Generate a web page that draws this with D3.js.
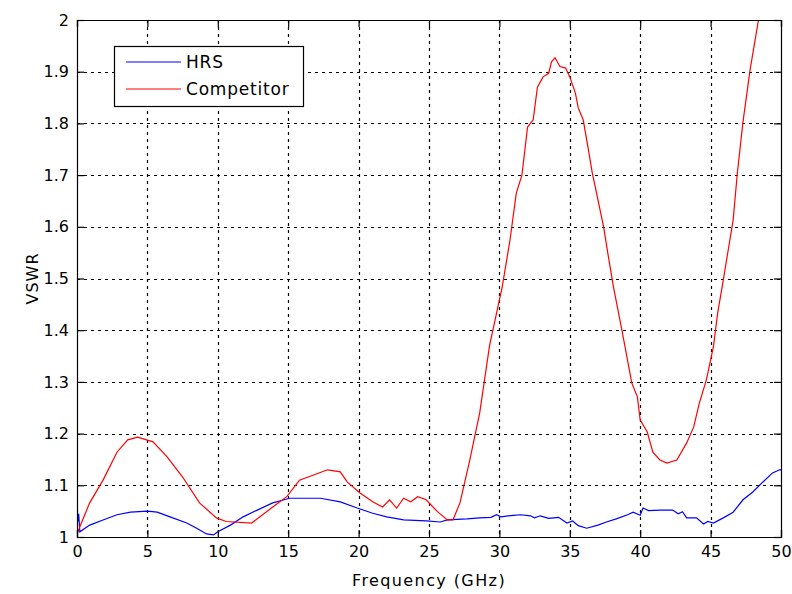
<!DOCTYPE html>
<html>
<head>
<meta charset="utf-8">
<script src="https://cdn.jsdelivr.net/npm/d3@7"></script>
<style>
  body { margin: 0; background: #fff; }
  text { font-family: "DejaVu Sans", Verdana, sans-serif; }
</style>
</head>
<body>
<div id="chart"></div>
<script>
// data (frequency in GHz, VSWR)
const hrsFreq = [0, 0.08, 0.12, 0.2, 0.9, 1.85, 2.84, 3.8, 5.0, 5.7, 6.6, 7.8, 8.5, 9.2, 9.7, 10.0, 10.9, 11.8, 12.8, 13.9,
  15.1, 17.3, 18.7, 19.9, 21.0, 22.0, 23.2, 24.8, 25.8, 26.3, 27.7, 28.6, 29.4, 29.8, 30.1, 31.0, 31.5, 32.2, 32.5, 32.9,
  33.5, 34.2, 34.8, 35.2, 35.6, 36.2, 37.0, 37.6, 38.3, 39.1, 39.5, 40.0, 40.2, 40.6, 41.4, 42.3, 42.7, 43.0, 43.3, 44.0,
  44.5, 44.8, 45.2, 45.9, 46.6, 47.3, 48.0, 48.7, 49.4, 49.9, 50];
const hrsVswr = [1.065, 1.03, 1.045, 1.01, 1.023, 1.033, 1.043, 1.048, 1.05, 1.048, 1.039, 1.027, 1.017, 1.006, 1.004, 1.01, 1.023, 1.039, 1.052, 1.066,
  1.075, 1.075, 1.068, 1.056, 1.046, 1.039, 1.033, 1.031, 1.029, 1.033, 1.035, 1.037, 1.038, 1.043, 1.039, 1.042, 1.043, 1.041, 1.037, 1.041,
  1.036, 1.038, 1.027, 1.031, 1.022, 1.017, 1.023, 1.029, 1.035, 1.043, 1.048, 1.042, 1.056, 1.051, 1.052, 1.052, 1.045, 1.049, 1.037, 1.037,
  1.025, 1.03, 1.027, 1.037, 1.048, 1.072, 1.087, 1.106, 1.124, 1.13, 1.13];

const compFreq = [0, 0.2, 0.9, 1.85, 2.84, 3.6, 4.3, 5.4, 6.4, 7.5, 8.7, 9.9, 10.6, 12.4, 13.9, 14.9, 15.8, 17.8, 18.7, 19.2,
  20.1, 21.0, 21.7, 22.2, 22.7, 23.2, 23.7, 24.2, 24.8, 25.6, 26.3, 26.7, 27.2, 27.9, 28.6, 29.3, 30.2, 30.75, 31.2, 31.6,
  32.0, 32.4, 32.7, 33.1, 33.5, 33.7, 33.95, 34.3, 34.7, 35.0, 35.4, 35.6, 35.95, 36.2, 36.6, 36.9, 37.4, 37.7, 38.1, 38.7,
  39.4, 39.8, 40.0, 40.5, 40.9, 41.4, 41.9, 42.6, 43.3, 43.8, 44.2, 44.7, 45.2, 45.5, 45.9, 46.6, 46.9, 47.3, 47.8, 48.4, 48.8];
const compVswr = [1.005, 1.02, 1.066, 1.11, 1.164, 1.188, 1.193, 1.184, 1.155, 1.116, 1.066, 1.037, 1.03, 1.027, 1.058, 1.078, 1.11, 1.13, 1.126, 1.106,
  1.085, 1.068, 1.058, 1.072, 1.056, 1.075, 1.068, 1.078, 1.072, 1.049, 1.033, 1.033, 1.066, 1.149, 1.24, 1.37, 1.484, 1.574, 1.665, 1.70,
  1.793, 1.807, 1.87, 1.89, 1.897, 1.919, 1.927, 1.91, 1.907, 1.89, 1.858, 1.83, 1.807, 1.768, 1.704, 1.665, 1.6, 1.549, 1.484, 1.40,
  1.298, 1.271, 1.226, 1.203, 1.164, 1.149, 1.143, 1.149, 1.182, 1.213, 1.259, 1.304, 1.368, 1.433, 1.497, 1.613, 1.704, 1.803, 1.903, 2.0, 2.07];

const xTicks = [0, 5, 10, 15, 20, 25, 30, 35, 40, 45, 50];
const yTicks = [1, 1.1, 1.2, 1.3, 1.4, 1.5, 1.6, 1.7, 1.8, 1.9, 2];
const seriesNames = ["HRS", "Competitor"];
const seriesColors = ["#0000ff", "#ff0000"];

const W = 792, H = 594;
const margin = {top: 20, right: 11, bottom: 57, left: 77};
const width = W - margin.left - margin.right;
const height = H - margin.top - margin.bottom;

const svg = d3.select("#chart").append("svg")
    .attr("width", W)
    .attr("height", H);

const g = svg.append("g")
    .attr("transform", "translate(" + margin.left + "," + margin.top + ")");

const x = d3.scaleLinear().domain([0, 50]).range([0, width]);
const y = d3.scaleLinear().domain([1, 2]).range([height, 0]);

// clip for lines
g.append("clipPath").attr("id", "clip")
  .append("rect").attr("width", width).attr("height", height);

// grid
g.selectAll(".vgrid").data(xTicks.slice(1, -1)).enter().append("line")
    .attr("x1", d => Math.round(x(d)) + 0.5).attr("x2", d => Math.round(x(d)) + 0.5)
    .attr("y1", 0).attr("y2", height)
    .attr("stroke", "#000").attr("stroke-width", 1.2).attr("stroke-dasharray", "3,4");
g.selectAll(".hgrid").data(yTicks.slice(1, -1)).enter().append("line")
    .attr("y1", d => Math.round(y(d)) + 0.5).attr("y2", d => Math.round(y(d)) + 0.5)
    .attr("x1", 0).attr("x2", width)
    .attr("stroke", "#000").attr("stroke-width", 1.2).attr("stroke-dasharray", "3,4");

// lines
const line = d3.line().x(d => x(d[0])).y(d => y(d[1]));
const hrs = hrsFreq.map((f, i) => [f, hrsVswr[i]]);
const comp = compFreq.map((f, i) => [f, compVswr[i]]);

g.append("path").datum(hrs)
    .attr("clip-path", "url(#clip)")
    .attr("fill", "none").attr("stroke", seriesColors[0]).attr("stroke-width", 1.2)
    .attr("d", line);
g.append("path").datum(comp)
    .attr("clip-path", "url(#clip)")
    .attr("fill", "none").attr("stroke", seriesColors[1]).attr("stroke-width", 1.2)
    .attr("d", line);

// axes, MATLAB style: ticks inside on all four sides
const fmt = d => d3.format("")(d);
const axBottom = g.append("g").attr("transform", "translate(0," + height + ")")
    .call(d3.axisBottom(x).tickValues(xTicks).tickSize(-7).tickPadding(9).tickFormat(fmt));
const axTop = g.append("g")
    .call(d3.axisTop(x).tickValues(xTicks).tickSize(-7).tickFormat(""));
const axLeft = g.append("g")
    .call(d3.axisLeft(y).tickValues(yTicks).tickSize(-7).tickPadding(8).tickFormat(fmt));
const axRight = g.append("g").attr("transform", "translate(" + width + ",0)")
    .call(d3.axisRight(y).tickValues(yTicks).tickSize(-7).tickFormat(""));

[axBottom, axTop, axLeft, axRight].forEach(a => {
  a.select(".domain").attr("stroke", "#000").attr("stroke-width", 1.2);
  a.selectAll(".tick line").attr("stroke", "#000").attr("stroke-width", 1.2);
  a.selectAll(".tick text").attr("fill", "#000")
      .style("font-family", "'DejaVu Sans', Verdana, sans-serif")
      .style("font-size", "16px");
});

// axis titles
g.append("text")
    .attr("x", width / 2).attr("y", height + 49)
    .attr("text-anchor", "middle")
    .style("font-size", "16px").style("letter-spacing", "1.4px")
    .text("Frequency (GHz)");
g.append("text")
    .attr("transform", "rotate(-90)")
    .attr("x", -height / 2).attr("y", -39)
    .attr("text-anchor", "middle")
    .style("font-size", "16px").style("letter-spacing", "1px")
    .text("VSWR");

// legend
const leg = g.append("g").attr("transform", "translate(37,26)");
leg.append("rect").attr("x", 0.5).attr("y", 0.5).attr("width", 189).attr("height", 60)
    .attr("fill", "#fff").attr("stroke", "#000").attr("stroke-width", 1.2);
seriesNames.forEach((n, i) => {
  const yy = 16 + i * 27;
  leg.append("line").attr("x1", 12).attr("x2", 67).attr("y1", yy).attr("y2", yy)
      .attr("stroke", seriesColors[i]).attr("stroke-width", 1.2);
  leg.append("text").attr("x", 72).attr("y", yy + 6)
      .style("font-size", "17px").style("letter-spacing", "0.8px").text(n);
});
</script>
</body>
</html>
